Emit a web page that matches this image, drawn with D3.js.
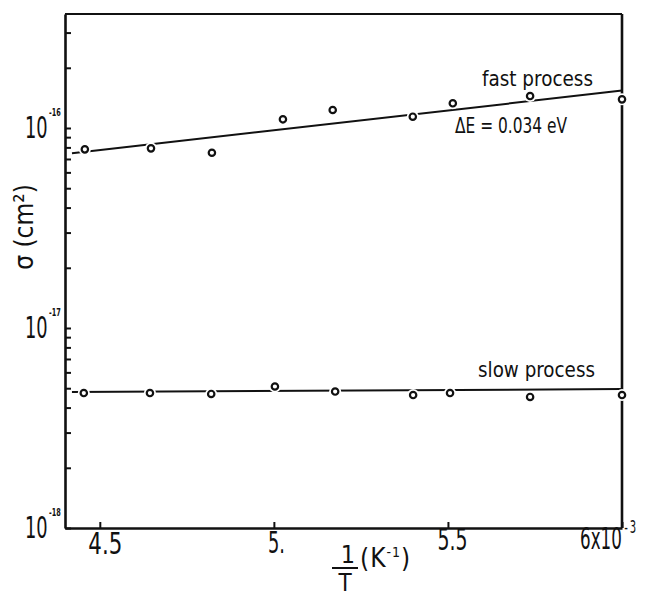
<!DOCTYPE html>
<html><head><meta charset="utf-8">
<script src="https://cdn.jsdelivr.net/npm/d3@7"></script>
<style>
body{margin:0;background:#fff}
text{font-family:'Liberation Sans Narrow','DejaVu Sans Condensed','Liberation Sans',sans-serif;fill:#111}
</style>
</head><body>
<svg id="c" width="645" height="596"></svg>
<script>
// ---- data ----
const fastInvT  = [4.457, 4.647, 4.822, 5.026, 5.169, 5.399, 5.514, 5.736, 6.0];
const fastSigma = [7.82e-17, 7.91e-17, 7.52e-17, 1.105e-16, 1.23e-16, 1.139e-16, 1.329e-16, 1.445e-16, 1.391e-16];
const slowInvT  = [4.454, 4.644, 4.820, 5.003, 5.176, 5.400, 5.506, 5.736, 6.0];
const slowSigma = [4.73e-18, 4.73e-18, 4.68e-18, 5.10e-18, 4.81e-18, 4.62e-18, 4.73e-18, 4.52e-18, 4.62e-18];
const fastFitInvT = [4.42, 6.0];
const fastFitSigma = [7.47e-17, 1.538e-16];
const slowFitInvT = [4.42, 6.0];
const slowFitSigma = [4.79e-18, 4.95e-18];
const xTickValues = [4.5, 5.0, 5.5, 6.0];
const xTickLabels = ["4.5", "5.", "5.5", "6x10"];
const xTickExp = "-3";
const yDecades = [1e-16, 1e-17, 1e-18];
const yDecadeExps = ["-16", "-17", "-18"];

const svg = d3.select("#c");
const L = 65, R = 622, T = 14, B = 528;
const x = d3.scaleLinear().domain([4.4, 6.0]).range([L, R]);
const y = d3.scaleLog().domain([1e-18, Math.pow(10, -15.43)]).range([B, T]);
const ink = "#111";

// frame (top + right)
svg.append("line").attr("x1", L).attr("x2", R).attr("y1", T).attr("y2", T)
  .attr("stroke", ink).attr("stroke-width", 2);
svg.append("line").attr("x1", R).attr("x2", R).attr("y1", T).attr("y2", B)
  .attr("stroke", ink).attr("stroke-width", 2.6);

// left axis with inward ticks
const yAxis = d3.axisLeft(y).tickValues(y.ticks()).tickSize(-6).tickSizeOuter(0).tickFormat("");
const gy = svg.append("g").attr("transform", `translate(${L},0)`).call(yAxis);
gy.select(".domain").attr("stroke", ink).attr("stroke-width", 2.6);
gy.selectAll(".tick line").attr("stroke", ink).attr("stroke-width", 2);

// bottom axis
const xLabelLen = [34, 17, 30, 0];
const xLabelDx = [5, 2, 4, 0];
const xLabelY = [5, 4, 1, 0];
const xAxis = d3.axisBottom(x).tickValues(xTickValues).tickSize(-6).tickSizeOuter(0)
  .tickPadding(5).tickFormat((d, i) => xTickLabels[i]);
const gx = svg.append("g").attr("transform", `translate(0,${B})`).call(xAxis);
gx.select(".domain").attr("stroke", ink).attr("stroke-width", 2.6);
gx.selectAll(".tick line").attr("stroke", ink).attr("stroke-width", 2);
const tickTexts = gx.selectAll(".tick text").attr("font-size", 30).attr("fill", ink)
  .attr("font-family", "'Liberation Sans Narrow','DejaVu Sans Condensed',sans-serif")
  .attr("y", (d, i) => xLabelY[i]);
tickTexts.filter((d, i) => i < xTickValues.length - 1)
  .attr("textLength", (d, i) => xLabelLen[i]).attr("lengthAdjust", "spacingAndGlyphs")
  .attr("dx", (d, i) => xLabelDx[i]);
// last label: "6x10" with superscript exponent, compressed horizontally
const last = tickTexts.filter((d, i) => i === xTickValues.length - 1);
last.text(null).attr("text-anchor", "end").attr("transform", "scale(0.62,1)").attr("x", null);
last.append("tspan").attr("x", -1).attr("text-anchor", "end").text(xTickLabels[xTickLabels.length - 1]);
last.append("tspan").attr("x", 3).attr("text-anchor", "start").attr("dy", -16)
  .attr("font-size", 18).attr("letter-spacing", 3).text(xTickExp);

// y decade labels (compressed "10" with superscript)
yDecades.forEach((d, i) => {
  const t = svg.append("text")
    .attr("transform", `translate(25,${y(d) + 10}) scale(0.66,1)`);
  t.append("tspan").attr("font-size", 30).text("10");
  t.append("tspan").attr("dy", -22).attr("dx", 2).attr("font-size", 11)
    .attr("font-weight", "bold").text(yDecadeExps[i]);
});

// axis titles
svg.append("text").attr("transform", "translate(33,227) rotate(-90)")
  .attr("text-anchor", "middle").attr("font-size", 26).text("σ (cm²)");
svg.append("text").attr("x", 348).attr("y", 563).attr("text-anchor", "middle").attr("font-size", 25).text("1");
svg.append("line").attr("x1", 332).attr("x2", 358).attr("y1", 568).attr("y2", 568)
  .attr("stroke", ink).attr("stroke-width", 2);
svg.append("text").attr("x", 345).attr("y", 591).attr("text-anchor", "middle").attr("font-size", 24).text("T");
const xt = svg.append("text").attr("x", 360).attr("y", 567).attr("font-size", 26).attr("letter-spacing", 1);
xt.append("tspan").text("(K");
xt.append("tspan").attr("dy", -10).attr("font-size", 14).text("-1");
xt.append("tspan").attr("dy", 10).text(")");

// fit lines
const line = d3.line().x(d => x(d[0])).y(d => y(d[1]));
svg.append("path").datum(d3.zip(fastFitInvT, fastFitSigma)).attr("d", line)
  .attr("fill", "none").attr("stroke", ink).attr("stroke-width", 2);
svg.append("path").datum(d3.zip(slowFitInvT, slowFitSigma)).attr("d", line)
  .attr("fill", "none").attr("stroke", ink).attr("stroke-width", 2);

// points with white halos
function drawPts(xs, ys) {
  const pts = d3.zip(xs, ys);
  svg.append("g").selectAll("circle").data(pts).join("circle")
    .attr("cx", d => x(d[0])).attr("cy", d => y(d[1])).attr("r", 6).attr("fill", "#fff");
  svg.append("g").selectAll("circle").data(pts).join("circle")
    .attr("cx", d => x(d[0])).attr("cy", d => y(d[1])).attr("r", 3.2)
    .attr("fill", "#fff").attr("stroke", ink).attr("stroke-width", 2.2);
}
drawPts(fastInvT, fastSigma);
drawPts(slowInvT, slowSigma);

// annotations
svg.append("text").attr("x", 482).attr("y", 86).attr("font-size", 21)
  .attr("textLength", 111).attr("lengthAdjust", "spacingAndGlyphs").text("fast process");
svg.append("text").attr("x", 455).attr("y", 133).attr("font-size", 21)
  .attr("textLength", 112).attr("lengthAdjust", "spacingAndGlyphs").text("ΔE = 0.034 eV");
svg.append("text").attr("x", 478).attr("y", 377).attr("font-size", 21)
  .attr("textLength", 117).attr("lengthAdjust", "spacingAndGlyphs").text("slow process");
</script>
</body></html>
